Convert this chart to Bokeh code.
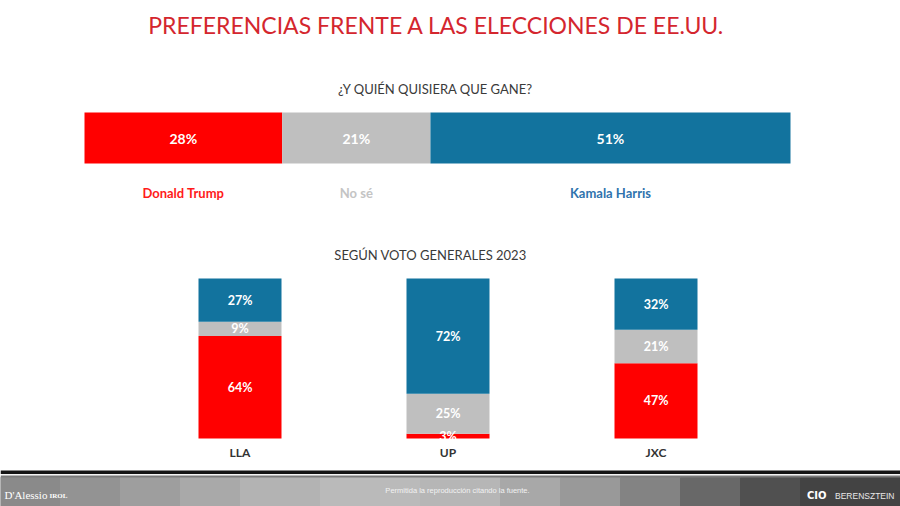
from bokeh.plotting import figure
from bokeh.models import Range1d, ColumnDataSource
from bokeh.core.properties import value
from bokeh.embed import file_html
from bokeh.resources import INLINE

# ---------------- data ----------------
title = "PREFERENCIAS FRENTE A LAS ELECCIONES DE EE.UU."
subtitle_top = "¿Y QUIÉN QUISIERA QUE GANE?"
subtitle_bottom = "SEGÚN VOTO GENERALES 2023"
options = ["Donald Trump", "No sé", "Kamala Harris"]
overall = [28, 21, 51]
parties = ["LLA", "UP", "JXC"]
trump = [64, 3, 47]
nose = [9, 25, 21]
harris = [27, 72, 32]
footer_center = "Permitida la reproducción citando la fuente."
footer_left = "D'Alessio"
footer_left_small = "IROL"
footer_right = "BERENSZTEIN"

# ---------------- styles ----------------
bar_colors = ["#ff0000", "#bfbfbf", "#12739e"]
label_colors = ["#ff1a1a", "#c4c4c4", "#2f73ad"]
FONT = "Lato"
W, H = 900, 506

p = figure(width=W, height=H, x_range=Range1d(0, W), y_range=Range1d(H, 0),
           x_axis_type=None, y_axis_type=None, toolbar_location=None,
           output_backend="svg", min_border=0, outline_line_color=None,
           background_fill_color="white", border_fill_color="white")
p.xgrid.visible = False
p.ygrid.visible = False

# scales: top bar percent axis (0 -> px 84, 100 -> px 790)
top_left, top_right = 84.0, 790.0
k = (top_right - top_left) / 100.0
p.extra_x_ranges["pct"] = Range1d(-top_left / k, (W - top_left) / k)
# bottom bars: vertical percent (0 at px 438, 1.6 px per %)
base_px, kv = 438.0, 1.6
p.extra_y_ranges["pv"] = Range1d(-(H - base_px) / kv, base_px / kv)
# category positions: index 1 at px 447.5, 208 px per category
cat_step, cat_center = 208.0, 447.5
p.extra_x_ranges["cat"] = Range1d(1 - cat_center / cat_step, 1 - cat_center / cat_step + W / cat_step)

# ---------------- titles ----------------
p.text(x=[436], y=[24], text=[title], text_font=value(FONT), text_font_size="23px",
       text_color="#d4262e", text_align="center", text_baseline="middle")
p.text(x=[435], y=[88], text=[subtitle_top], text_font=value(FONT), text_font_size="13px",
       text_color="#3a3a3a", text_align="center", text_baseline="middle")
p.text(x=[430], y=[254], text=[subtitle_bottom], text_font=value(FONT), text_font_size="13px",
       text_color="#3a3a3a", text_align="center", text_baseline="middle")

# ---------------- top stacked bar ----------------
lefts, rights, centers = [], [], []
acc = 0
for v in overall:
    lefts.append(acc)
    rights.append(acc + v)
    centers.append(acc + v / 2)
    acc += v
top_src = ColumnDataSource(dict(left=lefts, right=rights, center=centers,
                                color=bar_colors, lcolor=label_colors,
                                lab=[f"{v}%" for v in overall], name=options))
p.quad(left="left", right="right", top=112, bottom=163, fill_color="color",
       line_color=None, source=top_src, x_range_name="pct")
p.text(x="center", y=138, text="lab", source=top_src, x_range_name="pct",
       text_font=value(FONT), text_font_style="bold", text_font_size="14px",
       text_color="white", text_align="center", text_baseline="middle")
p.text(x="center", y=192, text="name", source=top_src, x_range_name="pct",
       text_font=value(FONT), text_font_style="bold", text_font_size="13px",
       text_color="lcolor", text_align="center", text_baseline="middle")

# ---------------- bottom stacked columns ----------------
xi = list(range(len(parties)))
src = ColumnDataSource(dict(x=xi, trump=trump, nose=nose, harris=harris, party=parties))
p.vbar_stack(["trump", "nose", "harris"], x="x", width=83 / cat_step, color=bar_colors,
             line_color=None, source=src, x_range_name="cat", y_range_name="pv")

lx, ly, lt = [], [], []
for i in xi:
    acc = 0
    for v in (trump[i], nose[i], harris[i]):
        lx.append(i)
        ly.append(acc + v / 2)
        lt.append(f"{v}%")
        acc += v
p.text(x=lx, y=ly, text=lt, x_range_name="cat", y_range_name="pv",
       text_font=value(FONT), text_font_style="bold", text_font_size="12.5px",
       text_color="white", text_align="center", text_baseline="middle")
p.text(x="x", y=452, text="party", source=src, x_range_name="cat",
       text_font=value(FONT), text_font_style="bold", text_font_size="12px",
       text_color="#333333", text_align="center", text_baseline="middle")

# ---------------- footer decoration ----------------
band_edges = [0, 60, 120, 180, 240, 320, 420, 500, 560, 620, 680, 740, 800, W]
band_cols = ["#8a8a8a", "#939393", "#9e9e9e", "#a9a9a9", "#b3b3b3", "#bababa",
             "#b6b6b6", "#a8a8a8", "#999999", "#838383", "#686868", "#505050", "#434343"]
p.quad(left=band_edges[:-1], right=band_edges[1:], top=[477] * len(band_cols),
       bottom=[H] * len(band_cols), fill_color=band_cols, line_color=band_cols, line_width=1)
p.quad(left=[0], right=[W], top=[470], bottom=[473.5], fill_color="#151515", line_color=None)
p.quad(left=[0], right=[W], top=[473.5], bottom=[475], fill_color="#f4f4f4", line_color=None)
p.quad(left=[0], right=[W], top=[475], bottom=[477], fill_color="#7a7a7a", line_color=None)

p.text(x=[4], y=[494], text=[footer_left], text_font=value("Liberation Serif"),
       text_font_size="11px", text_color="white", text_align="left", text_baseline="middle")
p.text(x=[49], y=[495], text=[footer_left_small], text_font=value("Liberation Serif"),
       text_font_style="bold", text_font_size="7px", text_color="white",
       text_align="left", text_baseline="middle")
p.text(x=[457], y=[490], text=[footer_center], text_font=value("Liberation Sans"),
       text_font_size="7.5px", text_color="#f2f2f2", text_align="center", text_baseline="middle")
p.text(x=[826], y=[495], text=["CIO"], text_font=value("DejaVu Sans"), text_font_style="bold",
       text_font_size="10px", text_color="white", text_align="right", text_baseline="middle")
p.text(x=[894], y=[495], text=[footer_right], text_font=value("Liberation Sans"),
       text_font_size="8.5px", text_color="#e8e8e8", text_align="right", text_baseline="middle")

open("out.html", "w").write(file_html(p, INLINE))
